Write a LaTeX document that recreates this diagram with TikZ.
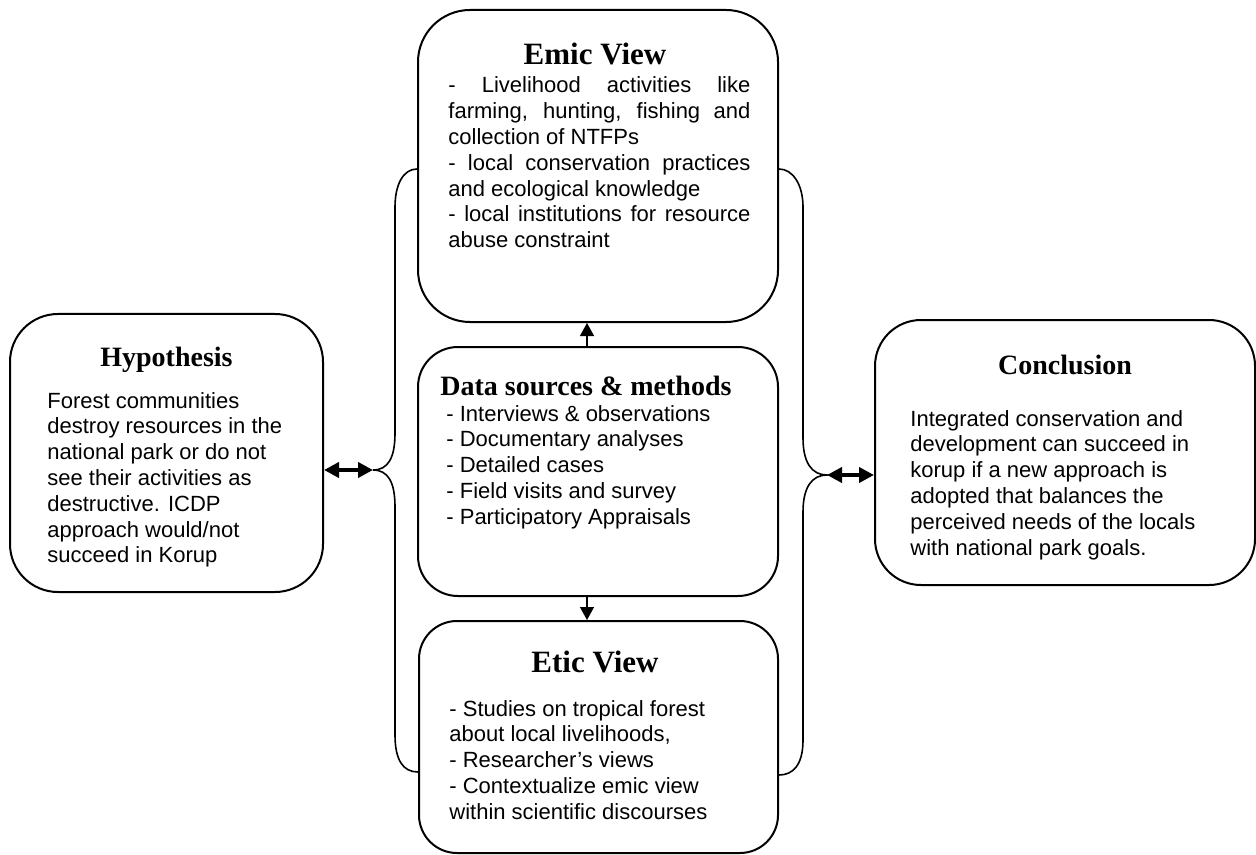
\documentclass[tikz,border=0pt]{standalone}
\usepackage{fontspec}
\setmainfont{Liberation Serif}
\newfontfamily\arialfont{Liberation Sans}
\usetikzlibrary{arrows.meta}
\begin{document}
\begin{tikzpicture}[x=0.5pt,y=-0.5pt,
  roundbox/.style={draw, line width=1pt, rounded corners=#1, inner sep=0pt},
  ttl/.style={font=\fontsize{14}{16}\selectfont\bfseries, inner sep=0pt},
  bigttl/.style={font=\fontsize{15.5}{17}\selectfont\bfseries, inner sep=0pt},
  bodytxt/.style={font=\arialfont\fontsize{11}{12.9}\selectfont, inner sep=0pt},
  brace/.style={line width=0.8pt},
  dbl/.style={line width=2pt, {Triangle[length=7.5pt,width=7.5pt]}-{Triangle[length=7.5pt,width=7.5pt]}},
  vtip/.style={line width=0.6pt, -{Triangle[length=6.5pt,width=7pt]}}]
\useasboundingbox (0,0) rectangle (1256,855);

% boxes
\node[roundbox=24pt, minimum width=156.5pt, minimum height=139pt] (hyp) at (166.5,453) {};
\node[roundbox=26pt, minimum width=180pt, minimum height=156pt] (emic) at (598,166) {};
\node[roundbox=20pt, minimum width=180pt, minimum height=124.5pt] (data) at (598,471.5) {};
\node[roundbox=19pt, minimum width=179.5pt, minimum height=116pt] (etic) at (598.5,737) {};
\node[roundbox=23pt, minimum width=190pt, minimum height=132.5pt] (concl) at (1065,452.5) {};

% titles
\node[ttl, anchor=base] (hypT) at (166.5,366) {Hypothesis};
\node[bigttl, anchor=base] (emicT) at (595,65) {Emic View};
\node[ttl, anchor=base west] (dataT) at (440,395) {Data sources \& methods};
\node[bigttl, anchor=base] (eticT) at (595,672) {Etic View};
\node[ttl, anchor=base] (conclT) at (1065,374) {Conclusion};

% body texts
\node[bodytxt, anchor=base west] (hypB) at (47,408) {\parbox[t]{130pt}{\raggedright
  Forest communities\\ destroy resources in the\\ national park or do not\\
  see their activities as\\ destructive. ICDP\\ approach would/not\\ succeed in Korup}};
\node[bodytxt, anchor=base west] (emicB) at (448,93) {\parbox[t]{151pt}{%
  - Livelihood activities like\linebreak farming, hunting, fishing and\linebreak collection of NTFPs\par
  - local conservation practices\linebreak and ecological knowledge\par
  - local institutions for resource\linebreak abuse constraint}};
\node[bodytxt, anchor=base west] (dataB) at (446,421) {\parbox[t]{160pt}{\raggedright
  - Interviews \& observations\\ - Documentary analyses\\ - Detailed cases\\
  - Field visits and survey\\ - Participatory Appraisals}};
\node[bodytxt, anchor=base west] (eticB) at (449,716) {\parbox[t]{160pt}{\raggedright
  - Studies on tropical forest\\ about local livelihoods,\\ - Researcher’s views\\
  - Contextualize emic view\\ within scientific discourses}};
\node[bodytxt, anchor=base west] (conclB) at (910,426) {\parbox[t]{170pt}{\raggedright
  Integrated conservation and\\ development can succeed in\\ korup if a new approach is\\
  adopted that balances the\\ perceived needs of the locals\\ with national park goals.}};

% brace tips
\coordinate (ltip) at (373,470);
\coordinate (rtip) at (827,475);

% left brace joining emic and etic views
\draw[brace] (emic.west |- 0,169) .. controls (403,169) and (395,185) .. (395,207)
  -- (395,433) .. controls (395,458) and (388,470) .. (ltip)
  .. controls (388,470) and (395,482) .. (395,507)
  -- (395,735) .. controls (395,760) and (403,772) .. (etic.west |- 0,772);
% right brace
\draw[brace] (emic.east |- 0,169) .. controls (793,169) and (803,185) .. (803,207)
  -- (803,438) .. controls (803,463) and (812,475) .. (rtip)
  .. controls (812,475) and (803,487) .. (803,512)
  -- (803,740) .. controls (803,765) and (793,775) .. (etic.east |- 0,775);

% connectors
\draw[dbl] (hyp.east |- ltip) -- (ltip);
\draw[dbl] (rtip) -- (concl.west |- rtip);
\coordinate (ax) at (587,0);
\draw[vtip] (data.north -| ax) -- (emic.south -| ax);
\draw[vtip] (data.south -| ax) -- (etic.north -| ax);
\end{tikzpicture}
\end{document}
